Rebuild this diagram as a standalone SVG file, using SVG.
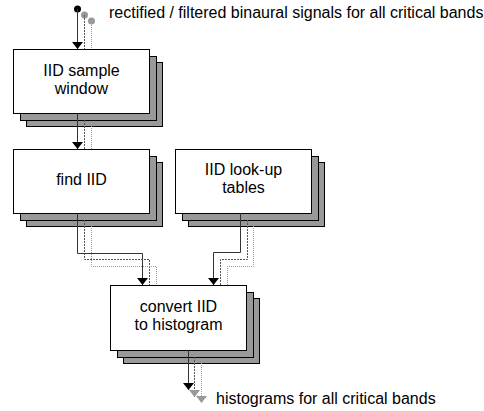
<svg xmlns="http://www.w3.org/2000/svg" width="484" height="411" viewBox="0 0 484 411">
<style>
.front{fill:#fff;stroke:#000;stroke-width:1}
.shadow{fill:#999;stroke:#000;stroke-width:1}
text{font-family:"Liberation Sans",Arial,sans-serif;font-size:16px;fill:#000}
.c{text-anchor:middle}
.solid{fill:none;stroke:#333;stroke-width:1}
.d1{fill:none;stroke:#555;stroke-width:1;stroke-dasharray:2,1}
.d2{fill:none;stroke:#999;stroke-width:1;stroke-dasharray:1,1}
</style>
<defs>
<marker id="ab" markerUnits="userSpaceOnUse" viewBox="0 0 7 11" refX="7" refY="5.5" markerWidth="7" markerHeight="11" orient="auto"><path d="M0,0 L7,5.5 L0,11 z" fill="#000"/></marker>
<marker id="ag" markerUnits="userSpaceOnUse" viewBox="0 0 7 11" refX="7" refY="5.5" markerWidth="7" markerHeight="11" orient="auto"><path d="M0,0 L7,5.5 L0,11 z" fill="#999"/></marker>
</defs>
<g id="window">
<rect class="shadow" x="26.5" y="62.5" width="136" height="64"/>
<rect class="shadow" x="20.5" y="56.5" width="136" height="64"/>
<rect class="front" x="13.5" y="49.5" width="136" height="64"/>
<text class="c" x="81.5" y="76">IID sample</text>
<text class="c" x="81.5" y="94">window</text>
</g>
<g id="find">
<rect class="shadow" x="26.5" y="162.5" width="136" height="64"/>
<rect class="shadow" x="20.5" y="156.5" width="136" height="64"/>
<rect class="front" x="13.5" y="149.5" width="136" height="64"/>
<text class="c" x="81.5" y="185">find IID</text>
</g>
<g id="lookup">
<rect class="shadow" x="188.5" y="162.5" width="136" height="64"/>
<rect class="shadow" x="182.5" y="156.5" width="136" height="64"/>
<rect class="front" x="175.5" y="149.5" width="136" height="64"/>
<text class="c" x="243.5" y="175">IID look-up</text>
<text class="c" x="243.5" y="193">tables</text>
</g>
<g id="convert">
<rect class="shadow" x="123.5" y="298.5" width="136" height="65"/>
<rect class="shadow" x="117.5" y="292.5" width="136" height="65"/>
<rect class="front" x="110.5" y="285.5" width="136" height="65"/>
<text class="c" x="178.5" y="312">convert IID</text>
<text class="c" x="178.5" y="330">to histogram</text>
</g>
<g id="connectors">
<circle cx="77.5" cy="9" r="3.5" fill="#000"/>
<circle cx="84.5" cy="15" r="3.5" fill="#999"/>
<circle cx="91.5" cy="21" r="3.5" fill="#999"/>
<path class="solid" d="M77.5,9 V49" marker-end="url(#ab)"/>
<path class="d1" d="M84.5,15 V49"/>
<path class="d2" d="M91.5,21 V49"/>
<path class="solid" d="M77.5,113 V149" marker-end="url(#ab)"/>
<path class="d1" d="M84.5,120 V149"/>
<path class="d2" d="M91.5,126 V149"/>
<path class="solid" d="M77.5,213 V253.5 H142.5 V285" marker-end="url(#ab)"/>
<path class="d1" d="M84.5,220 V259.5 H149.5 V285"/>
<path class="d2" d="M91.5,226 V266.5 H156.5 V285"/>
<path class="solid" d="M240.5,213 V252.5 H213.5 V285" marker-end="url(#ab)"/>
<path class="d1" d="M247.5,220 V259.5 H220.5 V285"/>
<path class="d2" d="M253.5,226 V266.5 H227.5 V285"/>
<path class="solid" d="M188.5,350 V390" marker-end="url(#ab)"/>
<path class="d1" d="M194.5,357 V397" marker-end="url(#ag)"/>
<path class="d2" d="M201.5,363 V403" marker-end="url(#ag)"/>
<text x="109" y="18">rectified / filtered binaural signals for all critical bands</text>
<text x="216" y="404">histograms for all critical bands</text>
</g>
</svg>
